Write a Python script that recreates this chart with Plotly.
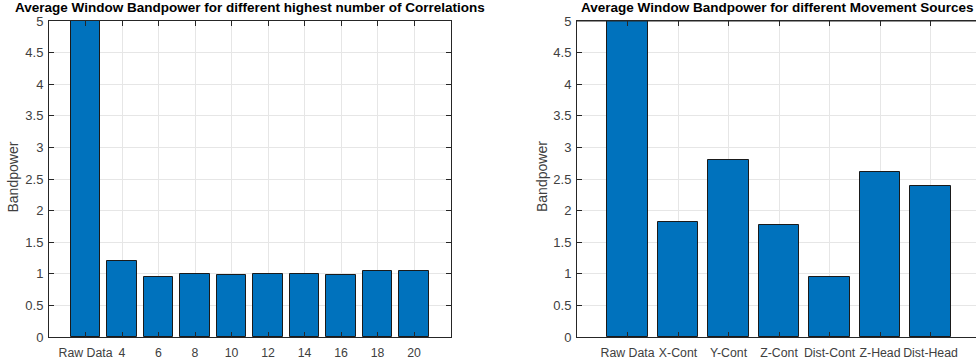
import plotly.graph_objects as go

# ---- data ----
left_categories = ["Raw Data", "4", "6", "8", "10", "12", "14", "16", "18", "20"]
left_values = [8.0, 1.20, 0.955, 1.00, 0.98, 0.99, 0.99, 0.98, 1.05, 1.05]

right_categories = ["Raw Data", "X-Cont", "Y-Cont", "Z-Cont", "Dist-Cont", "Z-Head", "Dist-Head"]
right_values = [8.0, 1.82, 2.80, 1.77, 0.955, 2.61, 2.385]

y_ticks = [0, 0.5, 1, 1.5, 2, 2.5, 3, 3.5, 4, 4.5, 5]
y_ticktext = ["0", "0.5", "1", "1.5", "2", "2.5", "3", "3.5", "4", "4.5", "5"]

left_title = "Average Window Bandpower for different highest number of Correlations"
right_title = "Average Window Bandpower for different Movement Sources"
y_label = "Bandpower"

W, H = 976, 360
BAR = "#0072BD"
AX = "#262626"
TICKC = "#404040"
GRID = "#e6e6e6"
FONT = "Liberation Sans, Arial, sans-serif"

fig = go.Figure()
fig.add_trace(go.Bar(x=list(range(len(left_categories))), y=left_values, width=0.8,
                     marker=dict(color=BAR, line=dict(color="#1a1a1a", width=1)),
                     xaxis="x", yaxis="y", showlegend=False))
fig.add_trace(go.Bar(x=list(range(len(right_categories))), y=right_values, width=0.8,
                     marker=dict(color=BAR, line=dict(color="#1a1a1a", width=1)),
                     xaxis="x2", yaxis="y2", showlegend=False))

ydom = [1 - 337 / H, 1 - 21 / H]
lx = [49 / W, 450.5 / W]
rx = [577 / W, 1.0]

common_x = dict(showline=True, linecolor=AX, linewidth=1, mirror="ticks", ticks="inside",
                ticklen=5, tickcolor=AX, showgrid=True, gridcolor=GRID, gridwidth=1,
                zeroline=False, tickmode="array", ticklabelstandoff=4, tickangle=0,
                automargin=False,
                tickfont=dict(family=FONT, size=12.3, color=TICKC), fixedrange=True)
common_y = dict(showline=True, linecolor=AX, linewidth=1, ticks="inside", ticklen=5,
                tickcolor=AX, showgrid=True, gridcolor=GRID, gridwidth=1, zeroline=False,
                range=[0, 5], tickmode="array", tickvals=y_ticks, ticktext=y_ticktext,
                ticklabelstandoff=2, automargin=False,
                tickfont=dict(family=FONT, size=13, color=TICKC), domain=ydom, fixedrange=True)

fig.update_layout(
    width=W, height=H, margin=dict(l=0, r=0, t=0, b=0),
    paper_bgcolor="white", plot_bgcolor="white", bargap=0,
    font=dict(family=FONT),
    xaxis=dict(common_x, domain=lx, range=[-1, len(left_categories)],
               tickvals=list(range(len(left_categories))), ticktext=left_categories, anchor="y"),
    yaxis=dict(common_y, anchor="x", mirror="ticks"),
    xaxis2=dict(common_x, domain=rx, range=[-1, 6.9],
                tickvals=list(range(len(right_categories))), ticktext=right_categories, anchor="y2"),
    yaxis2=dict(common_y, anchor="x2", mirror=False),
)

# top line for right axes (box), without right edge
fig.add_shape(type="line", xref="paper", yref="paper", x0=rx[0], x1=1, y0=ydom[1], y1=ydom[1],
              line=dict(color=AX, width=1))

annots = [
    dict(text="<b>%s</b>" % left_title, x=(lx[0] + lx[1]) / 2, y=1 - 7.5 / H),
    dict(text="<b>%s</b>" % right_title, x=777 / W, y=1 - 7.5 / H),
]
for a in annots:
    fig.add_annotation(xref="paper", yref="paper", xanchor="center", yanchor="middle",
                       showarrow=False, font=dict(family=FONT, size=13.5, color="black"), **a)
for xp in [12.5, 542]:
    fig.add_annotation(text=y_label, xref="paper", yref="paper", x=xp / W, y=1 - 177 / H,
                       xanchor="center", yanchor="middle", textangle=-90, showarrow=False,
                       font=dict(family=FONT, size=14, color=TICKC))

fig.write_html("out.html")
